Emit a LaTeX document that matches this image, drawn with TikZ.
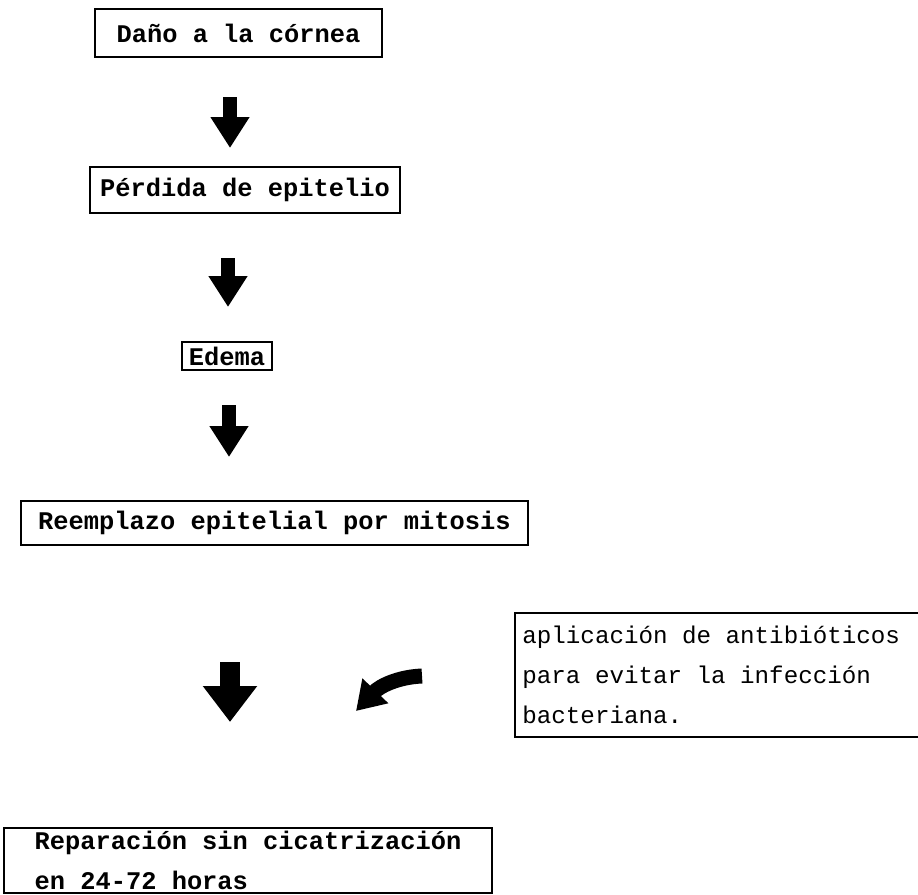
\documentclass[tikz,border=0pt]{standalone}
\usepackage{fontspec}
\setmainfont{Liberation Mono}[WordSpace={1,0,0}]
\usetikzlibrary{arrows.meta}

\begin{document}
\begin{tikzpicture}[x=0.5pt,y=-0.5pt]
\tikzset{caja/.style={draw, line width=1pt, inner sep=0pt, font=\fontsize{12.7}{20}\selectfont\bfseries},
  nota/.style={inner ysep=0pt, inner xsep=3.5pt, align=left, font=\fontsize{12.1}{20}\selectfont},
  flecha/.style={line width=7pt, -{Triangle[width=18.5pt,length=15.5pt]}},
  flechagrande/.style={line width=10pt, -{Triangle[width=26pt,length=18pt]}}}
\useasboundingbox (0,0) rectangle (918,895);
\clip (0,0) rectangle (918,895);
\node[caja, minimum width=143.5pt, minimum height=24pt] (C1) at (238.5,33) {Daño a la córnea};
\node[caja, minimum width=155pt, minimum height=23pt] (C2) at (245,190) {Pérdida de epitelio};
\node[caja, minimum width=45pt, minimum height=14pt] (C3) at (227,356) {Edema};
\node[caja, minimum width=253.5pt, minimum height=22pt] (C4) at (274.5,523) {Reemplazo epitelial por mitosis};
\node[caja, minimum width=244pt, minimum height=32.5pt, align=left] (C5) at (248,860.5) {Reparación sin cicatrización\\en 24-72 horas};
\node[nota, anchor=west, minimum height=62pt] (N1) at (515,675) {aplicación de antibióticos\\para evitar la infección\\bacteriana.};
\draw[line width=1pt] (N1.north west) rectangle ([xshift=12pt]N1.south east);
\coordinate (A1) at (230,97);
\coordinate (B1) at (230,148);
\coordinate (A2) at (228,258);
\coordinate (B2) at (228,307);
\coordinate (A3) at (229,405);
\coordinate (B3) at (229,457);
\coordinate (A4) at (230,662);
\coordinate (B4) at (230,722);
\coordinate (T1) at (422,676);
\coordinate (T2) at (356,711);
\draw[flecha] (A1) -- (B1);
\draw[flecha] (A2) -- (B2);
\draw[flecha] (A3) -- (B3);
\draw[flechagrande] (A4) -- (B4);
\draw[line width=7.5pt, -{Triangle[width=17pt,length=14pt]}] (T1) .. controls (398,677) and (380,686) .. (T2);
\end{tikzpicture}
\end{document}
